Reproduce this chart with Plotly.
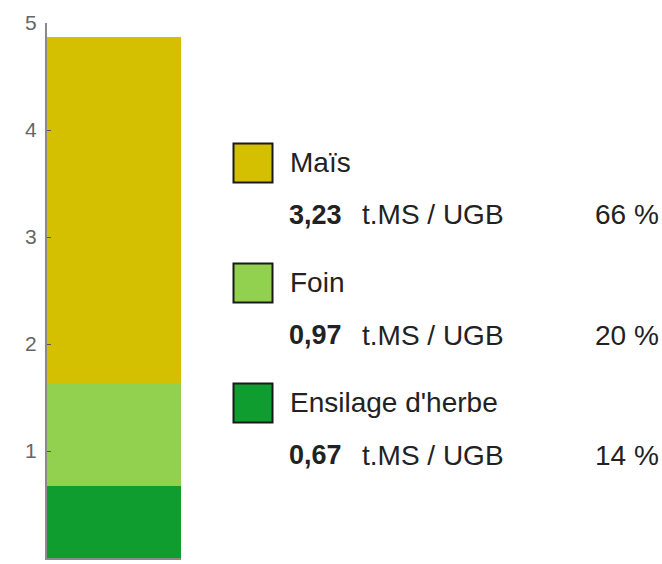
import plotly.graph_objects as go

# Data
categories = ["Ensilage d'herbe", "Foin", "Maïs"]          # stacking order, bottom to top
values = [0.67, 0.97, 3.23]
colors = ["#0f9d30", "#92d050", "#d4c000"]
legend_order = ["Maïs", "Foin", "Ensilage d'herbe"]
unit = "t.MS / UGB"
y_ticks = [0, 1, 2, 3, 4, 5]

W, H = 662, 564
AXIS_X, TOP_Y, BOT_Y, RIGHT_X = 47, 23, 558, 181   # page pixels
ML, MT = AXIS_X, TOP_Y
MB = H - BOT_Y
MR = 0
PW, PH = W - ML - MR, H - MT - MB

def px(x):
    return (x - ML) / PW

def py(y):
    return (BOT_Y - y) / PH

fig = go.Figure()
for cat, val, col in zip(categories, values, colors):
    fig.add_trace(go.Bar(x=["a"], y=[val], name=cat, marker=dict(color=col, line=dict(width=0)),
                         showlegend=False, hoverinfo="skip"))

total = sum(values)
font = "Liberation Sans, Arial, sans-serif"
FS = 28
shapes, annos = [], []
for i, name in enumerate(legend_order):
    idx = categories.index(name)
    val = values[idx]
    pct = round(val / total * 100)
    top = 143 + 120 * i
    shapes.append(dict(type="rect", xref="paper", yref="paper",
                       x0=px(233.5), x1=px(272.5), y0=py(top + 39.5), y1=py(top + 0.5),
                       fillcolor=colors[idx], line=dict(color="#1a1a1a", width=2)))
    annos.append(dict(xref="paper", yref="paper", x=px(288), y=py(top + 19), xanchor="left", yanchor="middle",
                      text=name, showarrow=False, font=dict(family=font, size=FS, color="#222")))
    row2 = top + 72
    annos.append(dict(xref="paper", yref="paper", x=px(287), y=py(row2), xanchor="left", yanchor="middle",
                      text="<b>" + f"{val:.2f}".replace(".", ",") + "</b>", showarrow=False,
                      font=dict(family=font, size=FS - 1, color="#222")))
    annos.append(dict(xref="paper", yref="paper", x=px(360), y=py(row2), xanchor="left", yanchor="middle",
                      text=unit, showarrow=False, font=dict(family=font, size=FS, color="#222")))
    annos.append(dict(xref="paper", yref="paper", x=px(661), y=py(row2), xanchor="right", yanchor="middle",
                      text=f"{pct} %", showarrow=False, font=dict(family=font, size=FS, color="#222")))

fig.update_layout(
    width=W, height=H, barmode="stack", bargap=0,
    margin=dict(l=ML, r=MR, t=MT, b=MB, pad=0),
    paper_bgcolor="white", plot_bgcolor="white",
    xaxis=dict(domain=[0, px(RIGHT_X)], range=[-0.5, 0.5], showticklabels=False, ticks="",
               showline=True, linecolor="#8a8a8a", linewidth=2, showgrid=False, zeroline=False, fixedrange=True),
    yaxis=dict(range=[0, 5], tickvals=y_ticks, ticks="inside", ticklen=4, tickwidth=1, tickcolor="#555",
               showline=True, linecolor="#8a8a8a", linewidth=2, showgrid=False, zeroline=False,
               tickfont=dict(family=font, size=21, color="#666"), ticklabelstandoff=4),
    shapes=shapes, annotations=annos, showlegend=False,
)
fig.write_html("out.html", config={"displayModeBar": False},
               post_script="document.body.style.margin='0';document.body.style.overflow='hidden';")
